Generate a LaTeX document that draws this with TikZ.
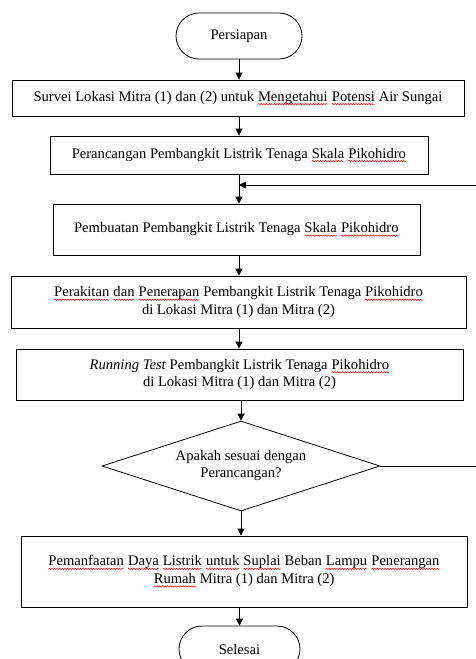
\documentclass[tikz,border=0pt]{standalone}
\usepackage{fontspec}
\setmainfont{Liberation Serif}
\usetikzlibrary{shapes.geometric,shapes.misc,arrows.meta,decorations.pathmorphing}
\newcommand\redwave[1]{\tikz[baseline=(w.base)]{\node[shape=rectangle, draw=none, fill=none, inner sep=0pt, outer sep=0pt, minimum width=0pt, minimum height=0pt, align=left] (w) {#1};
  \draw[red, line width=0.5pt, decorate, decoration={snake, amplitude=0.7pt, segment length=2.6pt}] ([yshift=-3pt]w.base west) -- ([yshift=-3pt]w.base east);}}
\tikzset{
  txt/.style={font=\fontsize{14.6}{17.5}\selectfont, align=center},
  procbox/.style={draw, line width=0.8pt, txt, inner sep=0pt},
  termbox/.style={draw, line width=0.8pt, txt, inner sep=0pt, rounded rectangle},
  flow/.style={line width=0.8pt, -{Triangle[length=7pt,width=7pt]}},
  plain/.style={line width=0.8pt},
}
\begin{document}
\begin{tikzpicture}[x=1pt,y=-1pt]
\useasboundingbox (0,0) rectangle (475,659);
\node[termbox, minimum width=126, minimum height=46] (start) at (239,36) {Persiapan};
\node[procbox, minimum width=452, minimum height=36] (b1) at (238,98)
  {Survei Lokasi Mitra (1) dan (2) untuk \redwave{Mengetahui} \redwave{Potensi} Air Sungai};
\node[procbox, minimum width=378, minimum height=38] (b2) at (239,155)
  {Perancangan Pembangkit Listrik Tenaga \redwave{Skala} \redwave{Pikohidro}};
\node[procbox, minimum width=367, minimum height=51] (b3) at (236.5,229.5)
  {Pembuatan Pembangkit Listrik Tenaga \redwave{Skala} \redwave{Pikohidro}};
\node[procbox, minimum width=455, minimum height=52] (b4) at (238.5,302)
  {\redwave{Perakitan} \redwave{dan} \redwave{Penerapan} Pembangkit Listrik Tenaga \redwave{Pikohidro}\\ di Lokasi Mitra (1) dan Mitra (2)};
\node[procbox, minimum width=447, minimum height=51] (b5) at (239.5,374.5)
  {\textit{Running Test} Pembangkit Listrik Tenaga \redwave{Pikohidro}\\ di Lokasi Mitra (1) dan Mitra (2)};
\node[diamond, draw, line width=0.8pt, inner sep=0pt, minimum width=278, minimum height=90] (dec) at (241,466) {};
\node[txt] (dectxt) at (241,465.5) {Apakah sesuai dengan\\ Perancangan?};
\node[procbox, minimum width=446, minimum height=71] (b6) at (244,571.5)
  {\redwave{Pemanfaatan} \redwave{Daya} \redwave{Listrik} \redwave{untuk} \redwave{Suplai} Beban \redwave{Lampu} \redwave{Penerangan}\\ \redwave{Rumah} Mitra (1) dan Mitra (2)};
\node[termbox, minimum width=121, minimum height=46] (end) at (239.5,649) {Selesai};

\coordinate (j) at (239,185);
\coordinate (r1) at (480,466);
\coordinate (r2) at (480,185);

\draw[flow] (start.south) -- (start.south |- b1.north);
\draw[flow] (b1.south -| start.south) -- (start.south |- b2.north);
\draw[plain] (b2.south -| j) -- (j);
\draw[flow] (j) -- (j |- b3.north);
\draw[flow] (b3.south -| j) -- (j |- b4.north);
\draw[flow] (b4.south -| j) -- (j |- b5.north);
\draw[flow] (b5.south -| dec.north) -- (dec.north);
\draw[flow] (dec.south) -- (dec.south |- b6.north);
\draw[flow] (b6.south -| end.north) -- (end.north);
\draw[flow] (dec.east) -- (r1) -- (r2) -- (j);
\end{tikzpicture}
\end{document}
